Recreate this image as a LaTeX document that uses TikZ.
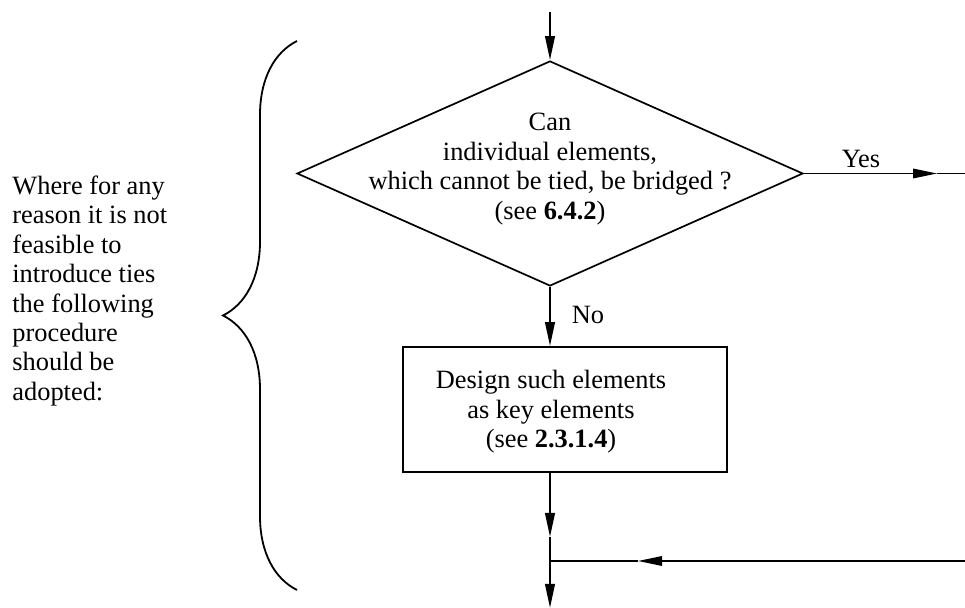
\documentclass[tikz,border=0pt]{standalone}
\usepackage{fontspec}
\setmainfont{Liberation Serif}
\usepackage{tikz}
\usetikzlibrary{shapes.geometric, arrows.meta, decorations.pathreplacing}

\begin{document}
\begin{tikzpicture}[
    x=0.5pt, y=-0.5pt,
    flow/.style={
        line width=1.1pt,
        -{Triangle[length=12pt, width=4.8pt]}
    },
    thinline/.style={line width=0.7pt},
    decision/.style={
        diamond,
        draw,
        line width=0.85pt,
        minimum width=253pt,
        minimum height=112.5pt,
        inner sep=0pt
    },
    process/.style={
        rectangle,
        draw,
        line width=0.85pt,
        minimum width=162pt,
        minimum height=62.5pt,
        inner sep=0pt
    },
    txt/.style={
        align=center,
        inner sep=0pt,
        font=\fontsize{13.2}{14.7}\selectfont
    }
]
    \useasboundingbox (0,0) rectangle (965,608);

    % Note and brace
    \node[txt, align=left, anchor=west] (note) at (12,291) {Where for any\\reason it is not\\feasible to\\introduce ties\\the following\\procedure\\should be\\adopted:};
    \draw[line width=0.9pt, decorate, decoration={brace, amplitude=37pt}] (297,590) -- (297,41);

    % Decision and process
    \node[decision] (bridge) at (550,173.5) {};
    \node[txt] (bridgetext) at (550,169) {Can\\individual elements,\\which cannot be tied, be bridged ?\\(see \textbf{6.4.2})};
    \node[process] (design) at (565,409.5) {};
    \node[txt] (designtext) at (551,412) {Design such elements\\as key elements\\(see \textbf{2.3.1.4})};

    % Labels
    \node[txt] (yes) at (861,159) {Yes};
    \node[txt] (no) at (588,315) {No};

    % Connector points
    \coordinate (entry) at (550,12);
    \coordinate (yestip) at (937,173.5);
    \coordinate (yesend) at (965,173.5);
    \coordinate (jointip) at (550,537);
    \coordinate (join) at (550,561);
    \coordinate (exit) at (550,608);
    \coordinate (backstart) at (965,561);
    \coordinate (backtip) at (638,561);

    % Connectors
    \draw[flow] (entry) -- (bridge.north);
    \draw[flow, thinline] (bridge.east) -- (yestip);
    \draw[thinline] (yestip) -- (yesend);
    \draw[flow] (bridge.south) -- (design.north -| bridge.south);
    \draw[flow] (design.south -| bridge.south) -- (jointip);
    \draw[line width=1.1pt] (jointip) -- (join);
    \draw[flow, thinline] (backstart) -- (backtip);
    \draw[thinline] (backtip) -- (join);
    \draw[flow] (join) -- (exit);

\end{tikzpicture}
\end{document}
